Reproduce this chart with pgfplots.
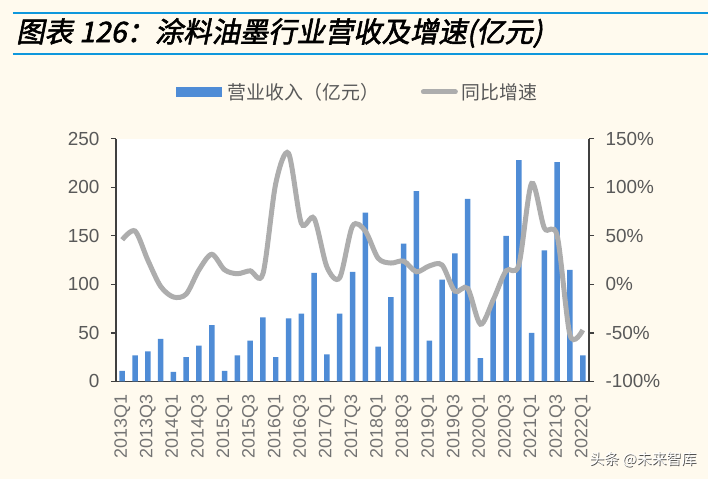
\documentclass[border=0pt]{standalone}
\usepackage{pgfplots}
\pgfplotsset{compat=1.18}
\usepackage{pgfplotstable}
\usepackage{fontspec}
\setmainfont{Liberation Sans}
\newfontfamily\cjk{Noto Sans CJK SC}
\newfontfamily\cjktitle[FakeSlant=0.2,FakeBold=2]{Noto Sans CJK SC}
\definecolor{bg}{HTML}{FFFAEE}
\definecolor{barblue}{HTML}{4F8CD6}
\definecolor{linegrey}{HTML}{ADADAD}
\definecolor{axisgrey}{HTML}{404040}
\definecolor{txtgrey}{HTML}{595959}
\definecolor{xlabgrey}{HTML}{737373}
\definecolor{titleblue}{HTML}{0E97DC}

\pgfplotstableread{
i rev g
0 11 46
1 27 55
2 31 25
3 44 -2
4 10 -13
5 25 -10
6 37 15
7 58 31
8 11 15
9 27 11
10 42 14
11 66 11
12 25 104
13 65 135
14 70 63
15 112 68
16 28 18
17 70 7
18 113 60
19 174 55
20 36 27
21 87 22
22 142 24
23 196 13
24 42 19
25 105 20
26 132 -7
27 188 -4
28 24 -41
29 84 -16
30 150 14
31 228 20
32 50 104
33 135 58
34 226 50
35 115 -52
36 27 -47
}\data

\begin{document}
\begin{tikzpicture}
\fill[bg] (0bp,0bp) rectangle (709bp,480bp);
\draw[titleblue, line width=2bp] (13bp,467bp) -- (709bp,467bp);
\draw[titleblue, line width=2bp] (13bp,426bp) -- (709bp,426bp);
\node[anchor=west, inner sep=0pt, font=\cjktitle\fontsize{28.5}{30}\selectfont] at (16bp,447bp) {图表 126：涂料油墨行业营收及增速(亿元)};
% legend
\fill[barblue] (176bp,383bp) rectangle (222bp,393bp);
\node[anchor=west, inner sep=0pt, text=txtgrey, font=\cjk\fontsize{19}{20}\selectfont] at (228bp,388bp) {营业收入（亿元）};
\draw[linegrey, line width=5bp, line cap=round] (424bp,388bp) -- (456bp,388bp);
\node[anchor=west, inner sep=0pt, text=txtgrey, font=\cjk\fontsize{19}{20}\selectfont] at (462bp,388bp) {同比增速};

\begin{axis}[
  at={(116bp,98bp)}, anchor=south west, scale only axis,
  width=474bp, height=243bp,
  xmin=-0.5, xmax=36.5, ymin=0, ymax=250,
  axis y line*=left, axis x line*=bottom,
  axis background/.style={fill=white},
  axis line style={axisgrey, line width=1.5bp},
  every tick/.style={axisgrey, line width=1.2bp},
  tick align=outside,
  ytick={0,50,...,250},
  major tick length=5bp,
  xtick={0,2,...,36},
  xticklabels={2013Q1,2013Q3,2014Q1,2014Q3,2015Q1,2015Q3,2016Q1,2016Q3,2017Q1,2017Q3,2018Q1,2018Q3,2019Q1,2019Q3,2020Q1,2020Q3,2021Q1,2021Q3,2022Q1},
  x tick style={draw=none},
  minor xtick={-0.5,0.5,...,36.5},
  minor tick length=4bp,
  xticklabel shift=5bp,
  yticklabel shift=8bp,
  x tick label style={rotate=90, anchor=east, text=xlabgrey, font=\fontsize{18}{18}\selectfont},
  y tick label style={text=txtgrey, font=\fontsize{19}{19}\selectfont},
  /pgf/number format/assume math mode=true,
  clip=false,
]
\addplot[ybar, bar width=5.5bp, fill=barblue, draw=none] table[x=i,y=rev]{\data};
\end{axis}

\begin{axis}[
  at={(116bp,98bp)}, anchor=south west, scale only axis,
  width=474bp, height=243bp,
  xmin=-0.5, xmax=36.5, ymin=-100, ymax=150,
  axis y line*=right, axis x line=none,
  axis line style={axisgrey, line width=1.5bp},
  every tick/.style={axisgrey, line width=1.2bp},
  tick align=outside,
  major tick length=5bp,
  ytick={-100,-50,...,150},
  yticklabel={\pgfmathprintnumber{\tick}\%},
  yticklabel shift=8bp,
  y tick label style={text=txtgrey, font=\fontsize{19}{19}\selectfont},
  /pgf/number format/assume math mode=true,
]
\addplot[linegrey, line width=5bp, smooth, tension=0.5] table[x=i,y=g]{\data};
\end{axis}

\node[text=black!70, font=\cjk\fontsize{15}{16}\selectfont, anchor=east] at (701.8bp,19.2bp) {头条 @未来智库};
\node[text=white, font=\cjk\fontsize{15}{16}\selectfont, anchor=east] at (701bp,20bp) {头条 @未来智库};
\end{tikzpicture}
\end{document}
